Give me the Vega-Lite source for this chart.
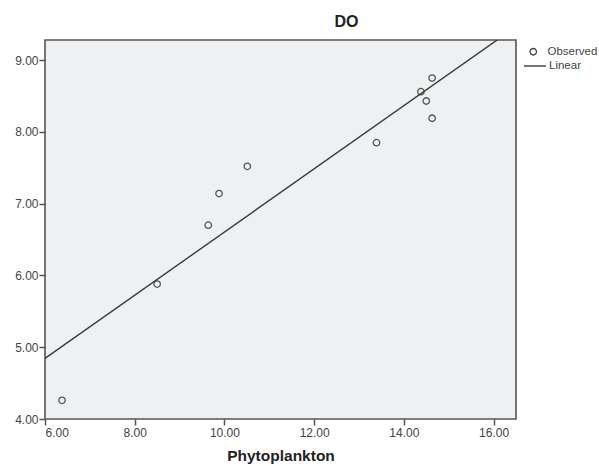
{
  "$schema": "https://vega.github.io/schema/vega-lite/v6.json",
  "autosize": {"type": "none"},
  "padding": {"left": 45, "top": 40, "right": 83, "bottom": 47},
  "width": 471,
  "height": 379,
  "background": "white",
  "title": {"text": "DO", "fontSize": 16, "font": "Liberation Sans", "fontWeight": "bold", "color": "#222222", "anchor": "middle", "dx": 66, "offset": 10},
  "data": {"values": [
    {"Phytoplankton": 6.38, "DO": 4.26, "series": "Observed"},
    {"Phytoplankton": 8.50, "DO": 5.88, "series": "Observed"},
    {"Phytoplankton": 9.64, "DO": 6.70, "series": "Observed"},
    {"Phytoplankton": 9.88, "DO": 7.14, "series": "Observed"},
    {"Phytoplankton": 10.51, "DO": 7.52, "series": "Observed"},
    {"Phytoplankton": 13.39, "DO": 7.85, "series": "Observed"},
    {"Phytoplankton": 14.38, "DO": 8.56, "series": "Observed"},
    {"Phytoplankton": 14.50, "DO": 8.43, "series": "Observed"},
    {"Phytoplankton": 14.63, "DO": 8.75, "series": "Observed"},
    {"Phytoplankton": 14.63, "DO": 8.19, "series": "Observed"}
  ]},
  "encoding": {
    "x": {"field": "Phytoplankton", "type": "quantitative", "scale": {"domain": [6, 16.5], "nice": false, "zero": false},
      "axis": {"values": [6, 8, 10, 12, 14, 16], "format": ".2f", "title": "Phytoplankton", "grid": false, "domain": false,
        "tickSize": 6, "tickWidth": 1.5, "tickColor": "#555555", "labelPadding": 2, "labelFontSize": 12, "labelFont": "Liberation Sans", "labelColor": "#444444",
        "titleFont": "Liberation Sans", "titleFontSize": 15.5, "titleFontWeight": "bold", "titleColor": "#222222", "titlePadding": 10}},
    "y": {"field": "DO", "type": "quantitative", "scale": {"domain": [4, 9.28], "nice": false, "zero": false},
      "axis": {"values": [4, 5, 6, 7, 8, 9], "format": ".2f", "title": null, "grid": false, "domain": false,
        "tickSize": 6, "tickWidth": 1.5, "tickColor": "#555555", "labelPadding": 1, "labelFontSize": 12, "labelFont": "Liberation Sans", "labelColor": "#444444"}}
  },
  "layer": [
    {
      "mark": {"type": "point", "filled": false, "color": "#555555", "strokeWidth": 1.3, "opacity": 1, "size": 42},
      "encoding": {
        "shape": {"field": "series", "type": "nominal", "scale": {"domain": ["Observed"], "range": ["circle"]},
          "legend": {"title": null, "orient": "none", "legendX": 482.5, "legendY": 6, "symbolSize": 42, "symbolStrokeColor": "#444444", "symbolFillColor": "transparent", "symbolStrokeWidth": 1.3, "labelFont": "Liberation Sans", "labelFontSize": 11.5, "labelColor": "#444444", "labelOffset": 8.5, "padding": 0}}
      }
    },
    {
      "transform": [{"regression": "DO", "on": "Phytoplankton", "extent": [6, 16.5]}],
      "mark": {"type": "line", "strokeWidth": 1.4, "clip": true},
      "encoding": {
        "color": {"datum": "Linear", "type": "nominal", "scale": {"domain": ["Linear"], "range": ["#3a3a3a"]},
          "legend": {"title": null, "orient": "none", "legendX": 478, "legendY": 14, "symbolType": "stroke", "symbolSize": 480, "symbolStrokeWidth": 1.4, "labelFont": "Liberation Sans", "labelFontSize": 11.5, "labelColor": "#444444", "labelOffset": 2, "padding": 0}}
      }
    }
  ],
  "config": {
    "view": {"fill": "#eff0f2", "stroke": "#555555", "strokeWidth": 1.6}
  }
}
